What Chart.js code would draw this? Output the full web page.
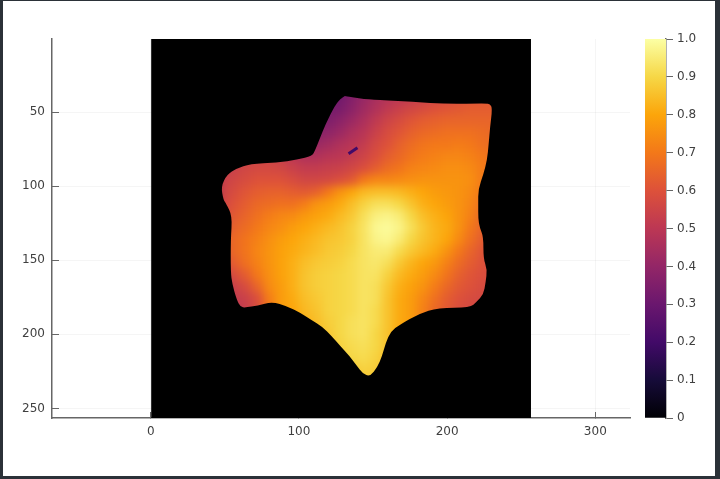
<!DOCTYPE html>
<html>
<head>
<meta charset="utf-8">
<script src="https://cdn.jsdelivr.net/npm/chart.js@4"></script>
<style>
  html, body { margin: 0; padding: 0; width: 720px; height: 479px; overflow: hidden; background: #2b3138; }
  #paper { position: absolute; left: 3px; top: 1px; width: 712px; height: 475px; background: #fff; }
  canvas { position: absolute; left: 0; top: 0; }
</style>
</head>
<body>
<div id="paper"></div>
<canvas id="heat" width="720" height="479"></canvas>
<canvas id="bar" width="720" height="479"></canvas>
<script>
const xTicks = [0, 100, 200, 300];
const yTicks = [50, 100, 150, 200, 250];
const barTicks = [0, 0.1, 0.2, 0.3, 0.4, 0.5, 0.6, 0.7, 0.8, 0.9, 1.0];
const barTop = [1];
const imageExtent = [0.5, 256.5];
const inferno = ['#000004', '#160b39', '#420a68', '#6a176e', '#932667', '#bc3754', '#dd513a', '#f37819', '#fca50a', '#f6d746', '#fcffa4'];

// cell centres of the depth map, 0 = no depth there
const cellX = [48, 56, 64, 72, 80, 88, 96, 104, 112, 120, 128, 136, 144, 152, 160, 168, 176, 184, 192, 200, 208, 216, 224, 232];
const cellY = [32, 40, 48, 56, 64, 72, 80, 88, 96, 104, 112, 120, 128, 136, 144, 152, 160, 168, 176, 184, 192, 200, 208, 216, 224, 232];
const depth = [
  [0, 0, 0, 0, 0, 0, 0, 0, 0, .30, .32, .36, .40, .44, .47, .49, .51, .53, .55, .56, .58, .60, .61, .62],
  [0, 0, 0, 0, 0, 0, 0, 0, 0, .31, .32, .36, .41, .45, .48, .50, .52, .54, .56, .57, .59, .60, .61, .62],
  [0, 0, 0, 0, 0, 0, 0, 0, .30, .33, .34, .38, .43, .47, .51, .54, .56, .58, .60, .61, .62, .63, .63, .63],
  [0, 0, 0, 0, 0, 0, 0, 0, .33, .35, .38, .42, .46, .51, .55, .58, .61, .63, .64, .65, .65, .65, .65, .65],
  [0, 0, 0, 0, 0, 0, 0, 0, .37, .39, .42, .46, .49, .54, .58, .61, .64, .66, .67, .68, .68, .68, .67, .66],
  [0, 0, 0, 0, 0, 0, 0, .42, .42, .44, .47, .49, .52, .57, .60, .64, .67, .69, .70, .70, .71, .70, .68, .67],
  [0, .53, .54, .55, .55, .53, .50, .47, .47, .49, .50, .52, .55, .59, .63, .66, .69, .71, .72, .73, .73, .72, .70, .68],
  [.52, .54, .56, .57, .57, .56, .54, .52, .52, .53, .54, .56, .59, .63, .67, .69, .72, .73, .74, .75, .75, .74, .71, .68],
  [.53, .56, .58, .60, .60, .60, .58, .56, .56, .57, .59, .62, .70, .73, .73, .74, .75, .76, .76, .76, .76, .75, .71, .66],
  [.54, .58, .61, .63, .64, .64, .63, .62, .64, .70, .76, .80, .84, .85, .85, .84, .82, .80, .78, .77, .76, .74, .70, .66],
  [.55, .60, .63, .66, .67, .68, .68, .71, .76, .78, .81, .85, .89, .92, .92, .90, .86, .82, .80, .78, .76, .73, .68, .64],
  [.56, .62, .65, .68, .71, .73, .74, .77, .79, .81, .84, .87, .92, .96, .97, .95, .90, .85, .82, .80, .76, .72, .66, .62],
  [.60, .64, .67, .70, .73, .75, .78, .80, .82, .84, .86, .89, .93, .98, .99, .97, .92, .87, .83, .81, .76, .70, .65, .62],
  [.62, .66, .69, .72, .75, .78, .80, .82, .84, .86, .87, .89, .93, .97, .98, .95, .90, .86, .83, .80, .74, .68, .63, .60],
  [.60, .66, .69, .73, .76, .79, .81, .83, .85, .87, .88, .90, .93, .95, .95, .91, .87, .84, .81, .76, .70, .65, .61, .58],
  [.57, .63, .68, .72, .76, .79, .82, .85, .87, .88, .89, .91, .93, .94, .92, .87, .83, .80, .77, .72, .67, .63, .60, .58],
  [.53, .58, .63, .70, .75, .79, .82, .86, .88, .89, .90, .91, .93, .93, .89, .84, .81, .78, .74, .69, .64, .61, .59, .58],
  [.50, .54, .58, .65, .74, .78, .82, .86, .88, .89, .90, .91, .93, .92, .87, .82, .79, .76, .71, .66, .62, .60, .58, .57],
  [.48, .52, .54, .59, .71, .78, .81, .85, .87, .89, .90, .91, .93, .92, .86, .81, .78, .73, .68, .63, .60, .58, .57, .56],
  [.48, .50, .53, .58, .70, .78, .80, .84, .86, .89, .90, .91, .93, .91, .86, .81, .78, .72, .66, .62, .59, .57, .56, .56],
  [0, .50, .53, .58, .70, .78, .78, .82, .85, .88, .90, .92, .93, .91, .86, .81, .78, .72, .66, .62, .59, .57, .56, 0],
  [0, 0, 0, 0, 0, .78, .78, .82, .84, .87, .90, .92, .93, .90, .86, .80, .78, .72, 0, 0, 0, 0, 0, 0],
  [0, 0, 0, 0, 0, 0, .78, .82, .84, .86, .89, .91, .92, .90, .86, .80, .78, 0, 0, 0, 0, 0, 0, 0],
  [0, 0, 0, 0, 0, 0, 0, .82, .84, .86, .88, .90, .91, .89, .85, .80, 0, 0, 0, 0, 0, 0, 0, 0],
  [0, 0, 0, 0, 0, 0, 0, 0, .84, .86, .87, .87, .89, .88, .85, .80, 0, 0, 0, 0, 0, 0, 0, 0],
  [0, 0, 0, 0, 0, 0, 0, 0, 0, .86, .86, .86, .87, .86, .85, 0, 0, 0, 0, 0, 0, 0, 0, 0]
];

// edge of the object, everything outside is black
const outlineX = [131, 137, 144, 150, 177, 200, 226, 229, 230.5, 229, 228, 227, 224.5, 221, 221, 221, 222, 224.5, 224.5, 227, 226, 224.5, 220, 215.5, 194, 181, 168, 162, 158.5, 156, 153, 148, 143, 139, 134, 128, 122, 116, 108, 101, 92, 82, 72, 64, 60.5, 58, 55, 54, 54, 55, 51, 49, 47.5, 51.5, 58, 67, 85, 99, 109, 111, 114, 118, 124.5, 128];
const outlineY = [39, 40, 41, 41.5, 43, 44.5, 44, 44.5, 47.5, 60, 72, 82, 92, 102, 112, 122, 128, 134, 149, 156, 165, 173, 178, 182, 182, 186, 193.5, 198, 206, 215, 222, 228.5, 226.5, 221, 214.5, 208, 201, 195, 190, 185.5, 181, 178, 180.5, 182, 181.5, 176.5, 166, 158, 136, 120, 112, 109, 100, 92, 88, 85, 84, 82, 79.5, 75.5, 68, 58, 45, 41];

const speckX = [133.5, 139.5];
const speckY = [78, 74];
const speckValue = 0.2;

function hexToRgb(h) {
    return [1, 3, 5].map(i => parseInt(h.slice(i, i + 2), 16));
}

function infernoColor(v) {
    const p = Math.min(v, 0.9999) * 10;
    const i = Math.floor(p);
    const a = hexToRgb(inferno[i]);
    const b = hexToRgb(inferno[i + 1]);
    const c = a.map((n, k) => Math.round(n + (b[k] - n) * (p - i)));
    return `rgb(${c[0]},${c[1]},${c[2]})`;
}

const cells = [];
const cellColors = [];
depth.forEach((row, r) => {
    row.forEach((v, c) => {
        if (v > 0) {
            cells.push({ x: cellX[c], y: cellY[r] });
            cellColors.push(infernoColor(v));
        }
    });
});

function fillImage(chart) {
    const { ctx, scales: { x, y } } = chart;
    const left = x.getPixelForValue(imageExtent[0]);
    const top = y.getPixelForValue(imageExtent[0]);
    ctx.fillStyle = '#000000';
    ctx.fillRect(left, top, x.getPixelForValue(imageExtent[1]) - left, y.getPixelForValue(imageExtent[1]) - top);
}

// black image behind; once the cells are drawn, soften them and cut to the outline
const imagePlugin = {
    id: 'image',
    beforeDatasetsDraw(chart) {
        fillImage(chart);
    },
    afterDatasetDraw(chart, args) {
        if (args.index !== 0) return;
        const { ctx, canvas, scales: { x, y } } = chart;
        const copy = document.createElement('canvas');
        copy.width = canvas.width;
        copy.height = canvas.height;
        copy.getContext('2d').drawImage(canvas, 0, 0);
        fillImage(chart);
        const pts = outlineX.map((v, i) => [x.getPixelForValue(v), y.getPixelForValue(outlineY[i])]);
        ctx.save();
        ctx.beginPath();
        pts.forEach((p, i) => {
            const q = pts[(i + 1) % pts.length];
            ctx.quadraticCurveTo(p[0], p[1], (p[0] + q[0]) / 2, (p[1] + q[1]) / 2);
        });
        ctx.closePath();
        ctx.clip();
        ctx.filter = 'blur(4px)';
        ctx.drawImage(copy, 0, 0);
        ctx.restore();
    }
};

const tickFont = { family: '"DejaVu Sans"', size: 12 };
const axisColor = '#666666';
const labelColor = '#3f3f3f';

new Chart(document.getElementById('heat'), {
    type: 'scatter',
    data: {
        datasets: [
            {
                data: cells,
                order: 1,
                pointStyle: 'rect',
                pointRadius: 9,
                pointBorderWidth: 0,
                pointBackgroundColor: cellColors
            },
            {
                data: speckX.map((v, i) => ({ x: v, y: speckY[i] })),
                order: 0,
                showLine: true,
                pointRadius: 0,
                borderWidth: 3,
                borderColor: infernoColor(speckValue)
            }
        ]
    },
    options: {
        responsive: false,
        animation: false,
        devicePixelRatio: 1,
        events: [],
        layout: { padding: { top: 39, right: 90, left: 0, bottom: 0 } },
        plugins: { legend: { display: false }, tooltip: { enabled: false } },
        scales: {
            x: {
                type: 'linear',
                min: -66.6,
                max: 323.4,
                afterFit(scale) { scale.height = 61; },
                afterBuildTicks(scale) { scale.ticks = xTicks.map(v => ({ value: v })); },
                border: { color: axisColor, width: 1.5 },
                grid: { color: 'rgba(0,0,0,0.04)', tickColor: axisColor, tickLength: -6 },
                ticks: { font: tickFont, color: labelColor, padding: 13, maxRotation: 0 }
            },
            y: {
                type: 'linear',
                reverse: true,
                min: imageExtent[0],
                max: imageExtent[1],
                afterFit(scale) { scale.width = 52; },
                afterBuildTicks(scale) { scale.ticks = yTicks.map(v => ({ value: v })); },
                border: { color: axisColor, width: 1.5 },
                grid: { color: 'rgba(0,0,0,0.04)', tickColor: axisColor, tickLength: -7 },
                ticks: { font: tickFont, color: labelColor, padding: 14 }
            }
        }
    },
    plugins: [imagePlugin]
});

new Chart(document.getElementById('bar'), {
    type: 'bar',
    data: {
        labels: [''],
        datasets: [{
            data: barTop,
            barPercentage: 1,
            categoryPercentage: 1,
            backgroundColor(context) {
                const area = context.chart.chartArea;
                if (!area) return inferno[0];
                const g = context.chart.ctx.createLinearGradient(0, area.bottom, 0, area.top);
                inferno.forEach((c, i) => g.addColorStop(barTicks[i], c));
                return g;
            }
        }]
    },
    options: {
        responsive: false,
        animation: false,
        devicePixelRatio: 1,
        events: [],
        layout: { padding: { top: 39, left: 645, right: 0, bottom: 61 } },
        plugins: { legend: { display: false }, tooltip: { enabled: false } },
        scales: {
            x: { display: false },
            y: {
                position: 'right',
                min: 0,
                max: 1,
                afterFit(scale) { scale.width = 54; },
                afterBuildTicks(scale) { scale.ticks = barTicks.map(v => ({ value: v })); },
                border: { color: axisColor, width: 1.5 },
                grid: { drawOnChartArea: false, tickColor: axisColor, tickLength: 7 },
                ticks: {
                    font: tickFont,
                    color: labelColor,
                    padding: 4,
                    callback: v => (v === 0 ? '0' : v.toFixed(1))
                }
            }
        }
    }
});
</script>
</body>
</html>
